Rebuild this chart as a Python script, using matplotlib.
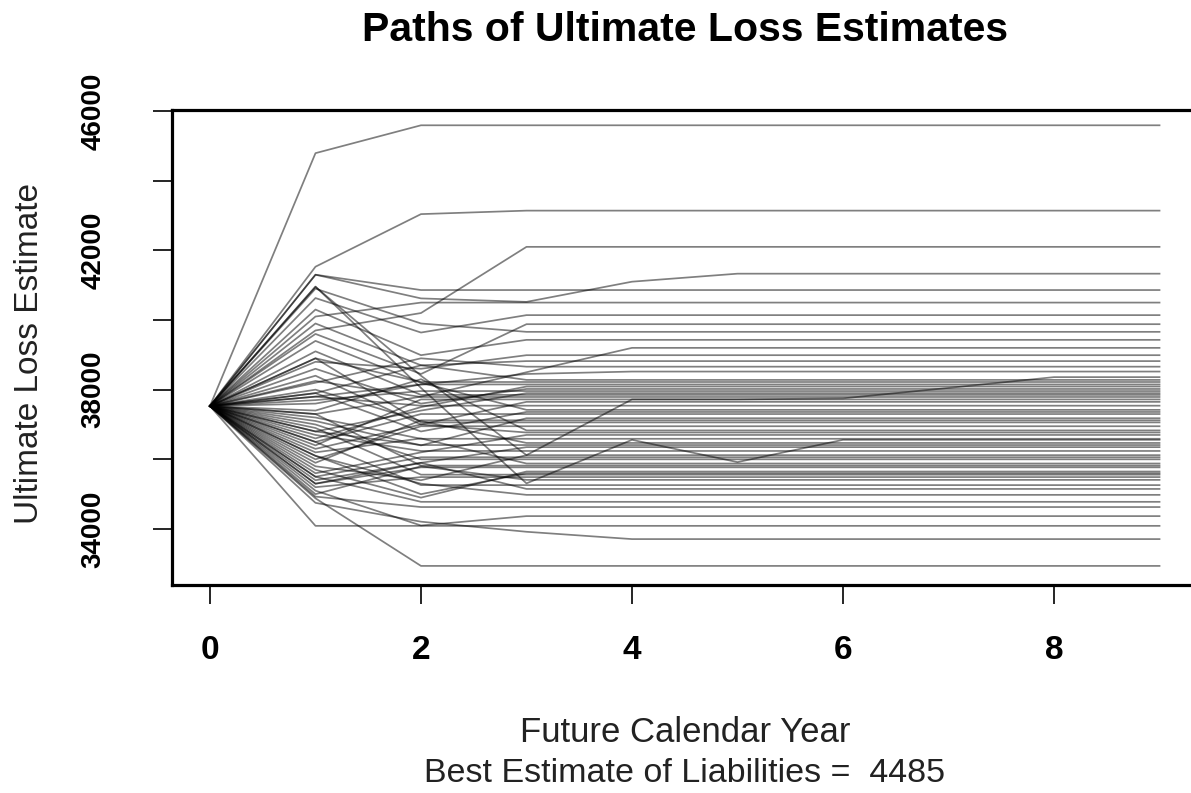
import numpy as np
import matplotlib.pyplot as plt
from matplotlib import font_manager

# ultimate loss estimate at year 0 (common start of every path)
start_value = 37530
years = np.arange(10)

# each path: estimates for future years 1, 2, ... until it stops moving,
# after which it stays flat up to year 9
upper_paths = [
    [44790, 45590],
    [41530, 43040, 43140],
    [39700, 40200, 42100],
    [41300, 40620, 40520, 41100, 41330],
    [41300, 40860],
    [40100, 40500],
    [40630, 39640, 40140],
    [39600, 38450, 39880],
    [40900, 39900, 39660],
    [40300, 38990, 39430],
    [37300, 37800, 38500, 39200],
    [38800, 38600, 38990],
    [37900, 38700, 38820],
    [38200, 38900, 38660],
    [37800, 38150, 38450, 38520],
    [40950, 38400, 36120, 37720, 37720, 37750, 38050, 38360],
]

band_paths = [
    [39900, 38700, 38280],
    [38900, 38220],
    [37600, 38150],
    [36600, 37500, 38090],
    [38600, 37600, 38020],
    [37700, 37960],
    [36800, 37400, 37900],
    [39100, 37850],
    [38250, 37790],
    [36400, 37720],
    [36300, 37000, 37650],
    [37800, 37540],
    [39400, 38200, 37420],
    [37900, 36800, 37360],
    [36500, 37300],
    [37100, 36400, 37180],
    [35900, 37120],
    [38900, 37060],
    [36000, 36950],
    [37400, 38300, 36830],
    [38400, 37000, 36770],
    [35600, 36200, 36700],
    [37200, 36590],
    [40960, 38050, 35310, 36560, 35920, 36560],
    [38000, 37100, 36470],
    [36800, 36410],
    [35300, 35900, 36350],
    [36700, 36240],
    [35800, 35400, 36120],
    [35500, 36060],
    [37000, 36000],
    [36200, 36600, 35880],
    [37300, 35820],
    [35300, 35770],
    [35700, 34900, 35650],
    [36100, 35000, 35600],
    [36900, 35560],
    [35200, 35490],
]

lower_paths = [
    [35000, 35800, 35410],
    [36500, 35260],
    [35400, 35900, 35150],
    [36100, 35300, 34980],
    [35500, 34780],
    [34930, 34630],
    [35100, 34100, 34370],
    [34090],
    [34750, 34210, 33920, 33710],
    [34880, 32940],
]

y_ticks = [34000, 36000, 38000, 40000, 42000, 44000, 46000]
y_tick_labels = ['34000', '', '38000', '', '42000', '', '46000']
x_ticks = [0, 2, 4, 6, 8]

names = {f.name for f in font_manager.fontManager.ttflist}
narrow = 'Liberation Sans Narrow' if 'Liberation Sans Narrow' in names else 'Liberation Sans'
plt.rcParams['font.family'] = [narrow, 'DejaVu Sans']

W, H = 1191, 793
fig = plt.figure(figsize=(W / 100, H / 100), dpi=100)
ax = fig.add_axes([172 / W, (H - 585) / H, (1197.5 - 172) / W, (585 - 110) / H])

for p in upper_paths + band_paths + lower_paths:
    vals = [start_value] + p + [p[-1]] * (9 - len(p))
    ax.plot(years, vals, color='black', alpha=0.5, lw=1.25)

ax.set_xlim(-0.36, 9.36)
ax.set_ylim(32392, 46029)

for s in ['left', 'top', 'bottom', 'right']:
    ax.spines[s].set_linewidth(2.3)

ax.set_xticks(x_ticks)
ax.set_xticklabels([str(t) for t in x_ticks], fontsize=24, fontweight='bold')
ax.set_yticks(y_ticks)
ax.set_yticklabels(y_tick_labels, fontsize=20, fontweight='bold', rotation=90, va='center')
ax.tick_params(axis='x', length=14, width=1.2, pad=22)
ax.tick_params(axis='y', length=14, width=1.2, pad=33)

fig.text(685 / W, 1 - 30 / H, 'Paths of Ultimate Loss Estimates', ha='center', va='center',
         fontsize=29.5, fontweight='bold')
fig.text(685 / W, 1 - 733 / H, 'Future Calendar Year', ha='center', va='center',
         fontsize=25, color='#222222')
fig.text(685 / W, 1 - 773 / H, 'Best Estimate of Liabilities =  4485', ha='center', va='center',
         fontsize=24.5, color='#222222')
fig.text(30 / W, 1 - 353 / H, 'Ultimate Loss Estimate', ha='center', va='center',
         rotation=90, fontsize=24, color='#222222')

fig.savefig('out.png', dpi=100)
